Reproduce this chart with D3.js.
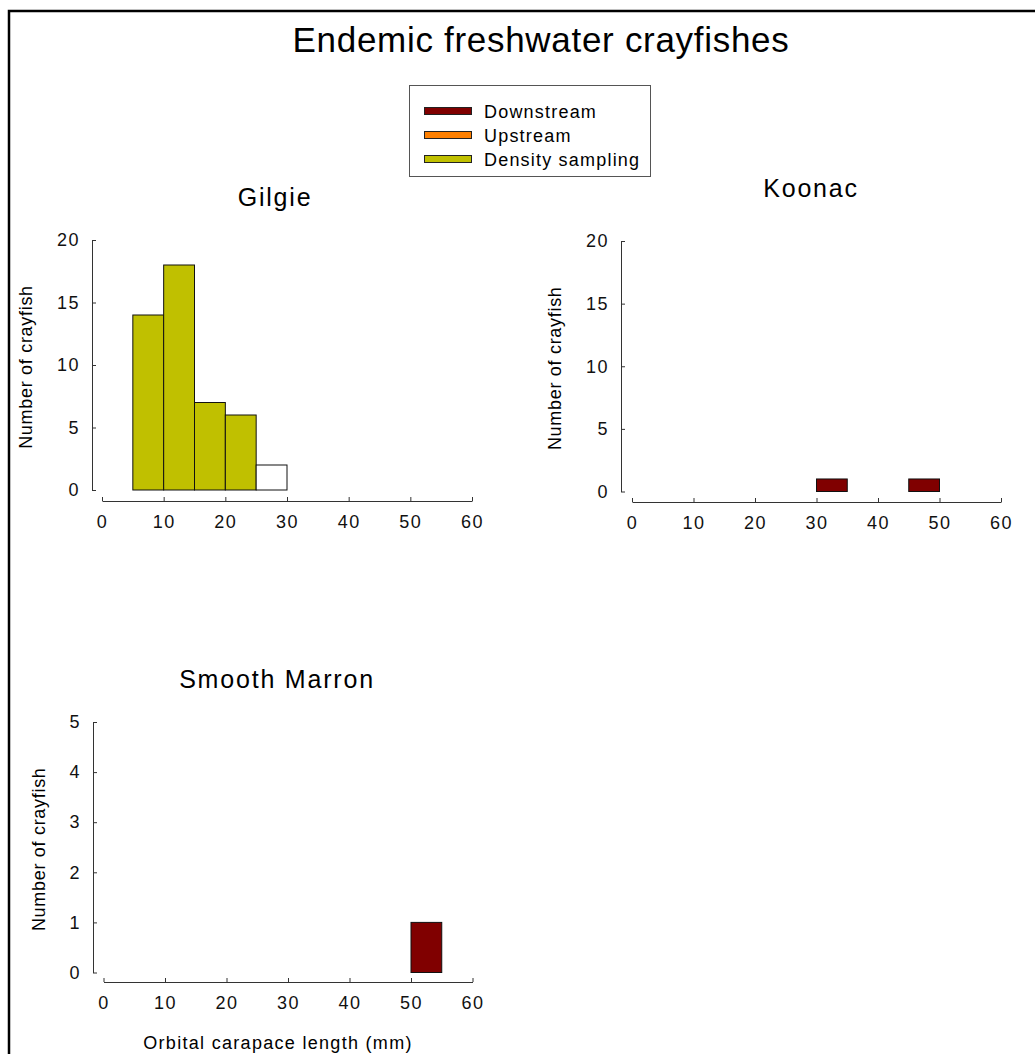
<!DOCTYPE html>
<html>
<head>
<meta charset="utf-8">
<script src="https://cdn.jsdelivr.net/npm/d3@7"></script>
<style>
  body { margin: 0; background: #fff; }
  svg { display: block; font-family: "Liberation Sans", Arial, sans-serif; }
  .axis path, .axis line { stroke: #333; }
  .axis text { font-size: 18px; letter-spacing: 1.5px; fill: #111; font-family: "Liberation Sans", Arial, sans-serif; }
</style>
</head>
<body>
<svg id="chart" width="1035" height="1054"></svg>
<script>
// ---------- data ----------
var binStarts = [0, 5, 10, 15, 20, 25, 30, 35, 40, 45, 50, 55];
var binWidth = 5;
var seriesKeys = ["Downstream", "Upstream", "Density sampling", "Unassigned"];
var seriesColors = ["#800000", "#ff8000", "#c0c000", "#ffffff"];
var legendKeys = ["Downstream", "Upstream", "Density sampling"];

var xTicks = [0, 10, 20, 30, 40, 50, 60];

// Gilgie
var gilgieDown    = [0, 0, 0, 0, 0, 0, 0, 0, 0, 0, 0, 0];
var gilgieUp      = [0, 0, 0, 0, 0, 0, 0, 0, 0, 0, 0, 0];
var gilgieDensity = [0, 14, 18, 7, 6, 0, 0, 0, 0, 0, 0, 0];
var gilgieOther   = [0, 0, 0, 0, 0, 2, 0, 0, 0, 0, 0, 0];
var gilgieYTicks  = [0, 5, 10, 15, 20];

// Koonac
var koonacDown    = [0, 0, 0, 0, 0, 0, 1, 0, 0, 1, 0, 0];
var koonacUp      = [0, 0, 0, 0, 0, 0, 0, 0, 0, 0, 0, 0];
var koonacDensity = [0, 0, 0, 0, 0, 0, 0, 0, 0, 0, 0, 0];
var koonacOther   = [0, 0, 0, 0, 0, 0, 0, 0, 0, 0, 0, 0];
var koonacYTicks  = [0, 5, 10, 15, 20];

// Smooth Marron
var marronDown    = [0, 0, 0, 0, 0, 0, 0, 0, 0, 0, 1, 0];
var marronUp      = [0, 0, 0, 0, 0, 0, 0, 0, 0, 0, 0, 0];
var marronDensity = [0, 0, 0, 0, 0, 0, 0, 0, 0, 0, 0, 0];
var marronOther   = [0, 0, 0, 0, 0, 0, 0, 0, 0, 0, 0, 0];
var marronYTicks  = [0, 1, 2, 3, 4, 5];

function makeRows(a, b, c, d) {
  return binStarts.map(function(s, i) {
    return { start: s, "Downstream": a[i], "Upstream": b[i], "Density sampling": c[i], "Unassigned": d[i] };
  });
}

var panels = [
  { name: "Gilgie", rows: makeRows(gilgieDown, gilgieUp, gilgieDensity, gilgieOther), yTicks: gilgieYTicks,
    yAxisX: 92, xLeft: 102, xRight: 472, yTop: 240, yBottom: 490, xAxisY: 501,
    titleX: 275, titleY: 206, ylabX: 32, xlabel: false },
  { name: "Koonac", rows: makeRows(koonacDown, koonacUp, koonacDensity, koonacOther), yTicks: koonacYTicks,
    yAxisX: 621, xLeft: 632, xRight: 1001, yTop: 241, yBottom: 491.5, xAxisY: 502,
    titleX: 811, titleY: 197, ylabX: 561, xlabel: false },
  { name: "Smooth Marron", rows: makeRows(marronDown, marronUp, marronDensity, marronOther), yTicks: marronYTicks,
    yAxisX: 93, xLeft: 103.5, xRight: 472.5, yTop: 722, yBottom: 972.5, xAxisY: 982,
    titleX: 277, titleY: 688, ylabX: 45, xlabel: true }
];

var svg = d3.select("#chart");
var color = d3.scaleOrdinal().domain(seriesKeys).range(seriesColors);

// outer frame (runs off the page to the right and bottom)
svg.append("rect")
  .attr("x", 9).attr("y", 11)
  .attr("width", 1100).attr("height", 1100)
  .attr("fill", "none").attr("stroke", "#000").attr("stroke-width", 2.5);

// main title
svg.append("text")
  .attr("x", 541).attr("y", 52)
  .attr("text-anchor", "middle")
  .style("font-size", "35px").style("letter-spacing", "0.7px")
  .text("Endemic freshwater crayfishes");

// legend
var legend = svg.append("g").attr("class", "legend");
legend.append("rect")
  .attr("x", 409.5).attr("y", 85.5).attr("width", 241).attr("height", 91)
  .attr("fill", "#fff").attr("stroke", "#555").attr("stroke-width", 1);
var legY = d3.scalePoint().domain(legendKeys).range([111, 159]);
var li = legend.selectAll("g.item").data(legendKeys).enter().append("g").attr("class", "item");
li.append("rect")
  .attr("x", 424.5).attr("y", function(d) { return legY(d) - 3.5; })
  .attr("width", 47).attr("height", 7)
  .attr("fill", function(d) { return color(d); })
  .attr("stroke", "#222").attr("stroke-width", 1);
li.append("text")
  .attr("x", 484).attr("y", function(d) { return legY(d) + 6.5; })
  .style("font-size", "18px").style("letter-spacing", "1.2px")
  .text(function(d) { return d; });

var stack = d3.stack().keys(seriesKeys);

panels.forEach(function(p) {
  var g = svg.append("g").attr("class", "panel");

  var x = d3.scaleLinear().domain([0, 60]).range([p.xLeft, p.xRight]);
  var y = d3.scaleLinear().domain([0, d3.max(p.yTicks)]).range([p.yBottom, p.yTop]);

  // bars
  var layers = stack(p.rows);
  g.selectAll("g.layer").data(layers).enter().append("g")
    .attr("class", "layer")
    .attr("fill", function(d) { return color(d.key); })
    .selectAll("rect")
    .data(function(d) { return d.filter(function(v) { return v[1] - v[0] > 0; }); })
    .enter().append("rect")
      .attr("x", function(d) { return x(d.data.start); })
      .attr("width", function(d) { return x(d.data.start + binWidth) - x(d.data.start); })
      .attr("y", function(d) { return y(d[1]); })
      .attr("height", function(d) { return y(d[0]) - y(d[1]); })
      .attr("stroke", "#111").attr("stroke-width", 1);

  // y axis
  g.append("g")
    .attr("class", "axis")
    .attr("transform", "translate(" + p.yAxisX + ",0)")
    .call(d3.axisLeft(y).tickValues(p.yTicks).tickFormat(d3.format("d"))
      .tickSizeInner(-4).tickSizeOuter(0).tickPadding(12));

  // x axis
  g.append("g")
    .attr("class", "axis")
    .attr("transform", "translate(0," + p.xAxisY + ")")
    .call(d3.axisBottom(x).tickValues(xTicks).tickFormat(d3.format("d"))
      .tickSizeInner(-4).tickSizeOuter(0).tickPadding(14));

  // panel title
  g.append("text")
    .attr("x", p.titleX).attr("y", p.titleY)
    .attr("text-anchor", "middle")
    .style("font-size", "25px").style("letter-spacing", "1.8px")
    .text(p.name);

  // y label
  g.append("text")
    .attr("transform", "translate(" + p.ylabX + "," + ((p.yTop + p.yBottom) / 2 + 2) + ") rotate(-90)")
    .attr("text-anchor", "middle")
    .style("font-size", "18px").style("letter-spacing", "0.7px")
    .text("Number of crayfish");

  if (p.xlabel) {
    g.append("text")
      .attr("x", 278).attr("y", 1049)
      .attr("text-anchor", "middle")
      .style("font-size", "18px").style("letter-spacing", "1.3px")
      .text("Orbital carapace length (mm)");
  }
});
</script>
</body>
</html>
